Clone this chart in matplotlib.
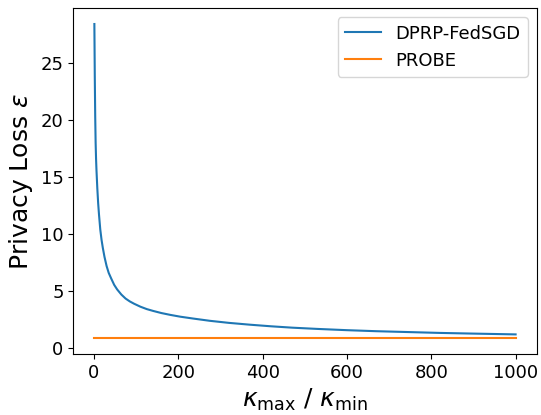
import matplotlib
matplotlib.use("Agg")
import matplotlib.pyplot as plt

# Values
kappa_ratio = [1, 2, 3, 4, 5, 6, 8, 10, 12, 15, 18, 21, 25, 30, 35, 41, 48,
               55, 65, 75, 85, 95, 110, 125, 140, 160, 181, 205, 235, 275,
               320, 370, 420, 470, 530, 600, 670, 740, 820, 900, 1000]
dprp_fedsgd = [28.4, 23.8, 20.3, 18.0, 16.6, 15.6, 14.0, 12.7, 11.7, 10.4,
               9.5, 8.8, 8.0, 7.2, 6.6, 6.1, 5.55, 5.15, 4.7, 4.35, 4.1,
               3.9, 3.64, 3.43, 3.27, 3.08, 2.92, 2.76, 2.6, 2.4, 2.22,
               2.06, 1.92, 1.80, 1.69, 1.58, 1.49, 1.42, 1.34, 1.28, 1.21]
probe_x = [1, 1000]
probe_y = [0.87, 0.87]

series_labels = ["DPRP-FedSGD", "PROBE"]
x_label = r"$\kappa_{\max}$ / $\kappa_{\min}$"
y_label = r"Privacy Loss $\varepsilon$"

fig = plt.figure(figsize=(5.41, 4.15), dpi=100)
ax = fig.add_axes([0.1355, 0.147, 0.8565, 0.833])
ax.plot(kappa_ratio, dprp_fedsgd, color="#1f77b4", lw=1.5, label=series_labels[0])
ax.plot(probe_x, probe_y, color="#ff7f0e", lw=1.5, label=series_labels[1])
ax.set_xlabel(x_label, fontsize=18)
ax.set_ylabel(y_label, fontsize=18)
ax.tick_params(labelsize=13)
ax.legend(fontsize=13, loc="upper right")
fig.savefig("out.png", dpi=100)
